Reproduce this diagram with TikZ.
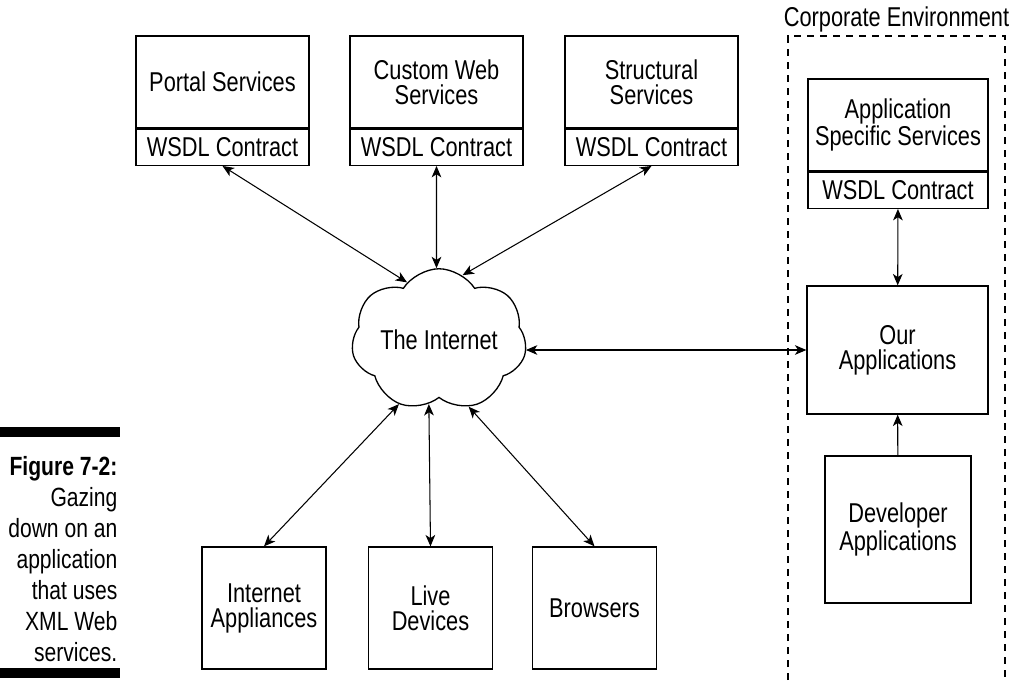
\documentclass[tikz,border=0pt]{standalone}
\usepackage{fontspec}
\setmainfont{Liberation Sans}[FakeStretch=0.8]
\usetikzlibrary{arrows.meta, positioning, shapes.symbols}
\newcommand{\diagfont}{\fontsize{15.5}{14.2}\selectfont}
\newcommand{\capfont}{\fontsize{15}{17.6}\selectfont}
\tikzset{
  every picture/.style={line width=0.75pt},
  svcbox/.style={draw, align=center, minimum width=3.46cm, minimum height=1.84cm, inner sep=2pt, font=\diagfont},
  wsdlbox/.style={draw, align=center, minimum width=3.46cm, minimum height=0.72cm, inner sep=2pt, font=\diagfont},
  appbox/.style={draw, align=center, inner sep=2pt, font=\diagfont},
  link/.style={{Stealth[length=6.5pt, width=5.5pt, inset=1.8pt]}-{Stealth[length=6.5pt, width=5.5pt, inset=1.8pt]}, line width=0.6pt},
  oneway/.style={-{Stealth[length=6.5pt, width=5.5pt, inset=1.8pt]}, line width=0.6pt},
  corpframe/.style={dashed, dash pattern=on 4pt off 3.4pt, line width=0.6pt},
}

\begin{document}
\begin{tikzpicture}[x=0.02cm, y=-0.02cm]
  \useasboundingbox (0,0) rectangle (1011,680);
  % caption
  \fill (0,427) rectangle (120,437);
  \fill (0,668) rectangle (120,678);
  \node[anchor=north east, align=right, font=\capfont, inner sep=0pt] (cap) at (118,456)
    {\textbf{Figure 7-2:}\\Gazing\\down on an\\application\\that uses\\XML Web\\services.};
  % the internet
  \node[cloud, draw, cloud puffs=7, cloud puff arc=115, cloud ignores aspect, minimum width=3.45cm, minimum height=2.85cm, font=\diagfont] (net) at (439,340) {The Internet};
  % published services
  \foreach \n/\x/\t/\a in {portal/222.5/Portal Services/119, custom/436.5/Custom Web\\Services/92, struct/651.5/Structural\\Services/70} {
    \node[svcbox] (\n) at (\x,82) {\t};
    \node[wsdlbox, below=0pt of \n] (\n-w) {WSDL Contract};
    \draw[link] (\n-w.south) -- (net.\a);
  }
  % clients
  \foreach \n/\x/\t/\a in {appl/264/Internet\\Appliances/238, live/430.5/Live\\Devices/261, brow/594.5/Browsers/294} {
    \node[appbox, minimum width=2.48cm, minimum height=2.44cm] (\n) at (\x,608) {\t};
    \draw[link] (\n.north) -- (net.\a);
  }
  % corporate environment
  \draw[corpframe] (788,680) |- (1005,36) -- (1005,680);
  \node[font=\diagfont, anchor=base, inner sep=0pt] (corp) at (896.5,26) {Corporate Environment};
  \node[svcbox, minimum width=3.6cm] (appsvc) at (898,125) {Application\\Specific Services};
  \node[wsdlbox, minimum width=3.6cm, below=0pt of appsvc] (appsvc-w) {WSDL Contract};
  \node[appbox, minimum width=3.62cm, minimum height=2.56cm] (ourapp) at (897.5,350) {Our\\Applications};
  \node[appbox, minimum width=2.92cm, minimum height=2.94cm] (devapp) at (898,529.5) {Developer\\Applications};
  \draw[link] (appsvc-w) -- (ourapp);
  \draw[oneway] (devapp) -- (ourapp);
  \draw[link] (ourapp.west) -- (ourapp.west -| net.east);
\end{tikzpicture}
\end{document}
